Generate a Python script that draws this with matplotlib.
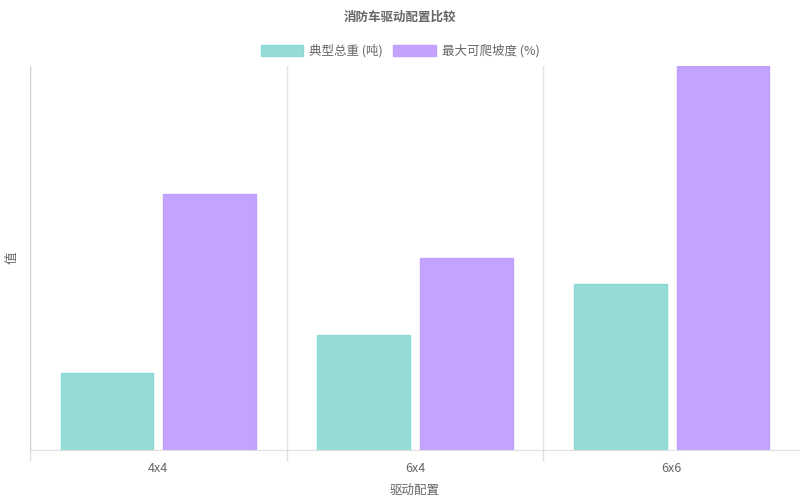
import matplotlib
matplotlib.use("Agg")
import matplotlib.pyplot as plt
import numpy as np

plt.rcParams['font.family'] = ['Noto Sans CJK SC', 'DejaVu Sans']

categories = ["4x4", "6x4", "6x6"]
series_names = ["典型总重 (吨)", "最大可爬坡度 (%)"]
weight = [6, 9, 13]
grade = [20, 15, 30]

colors = ["#97dbd7", "#c4a3fe"]
edges = ["#8fd9d4", "#c0a0fd"]

fig = plt.figure(figsize=(8, 5), dpi=100)
ax = fig.add_axes([0.0375, 0.1, 0.9625, 0.768])

x = np.arange(len(categories))
w = 0.36
ax.bar(x - 0.2, weight, w, color=colors[0], edgecolor=edges[0], linewidth=1, label=series_names[0])
ax.bar(x + 0.2, grade, w, color=colors[1], edgecolor=edges[1], linewidth=1, label=series_names[1])

ax.set_xlim(-0.5, 2.5)
ax.set_ylim(0, 30)
ax.set_xticks(x)
ax.set_xticklabels(categories, fontsize=9, color="#666666")
ax.tick_params(axis='x', which='major', length=0, pad=9)
ax.set_xticks([-0.5, 0.5, 1.5], minor=True)
ax.tick_params(axis='x', which='minor', length=8, color="#e0e0e0", width=1)
ax.grid(True, axis='x', which='minor', color="#e5e5e5", linewidth=1)
ax.set_axisbelow(True)
ax.set_yticks([])

for s in ['top', 'right']:
    ax.spines[s].set_visible(False)
ax.spines['left'].set_color("#d0d0d0")
ax.spines['bottom'].set_color("#e0e0e0")

ax.set_xlabel("驱动配置", fontsize=9, color="#666666", labelpad=6)
ax.set_ylabel("值", fontsize=9, color="#666666", labelpad=8)

fig.text(0.5, 0.966, "消防车驱动配置比较", ha='center', va='center', fontsize=9, fontweight='bold', color="#666666")

leg = fig.legend(loc='center', bbox_to_anchor=(0.5, 0.898), ncol=2, frameon=False,
                 fontsize=9, handlelength=3.4, handleheight=1.0, columnspacing=0.8,
                 handletextpad=0.5, labelcolor="#666666")

fig.savefig("out.png", dpi=100)
